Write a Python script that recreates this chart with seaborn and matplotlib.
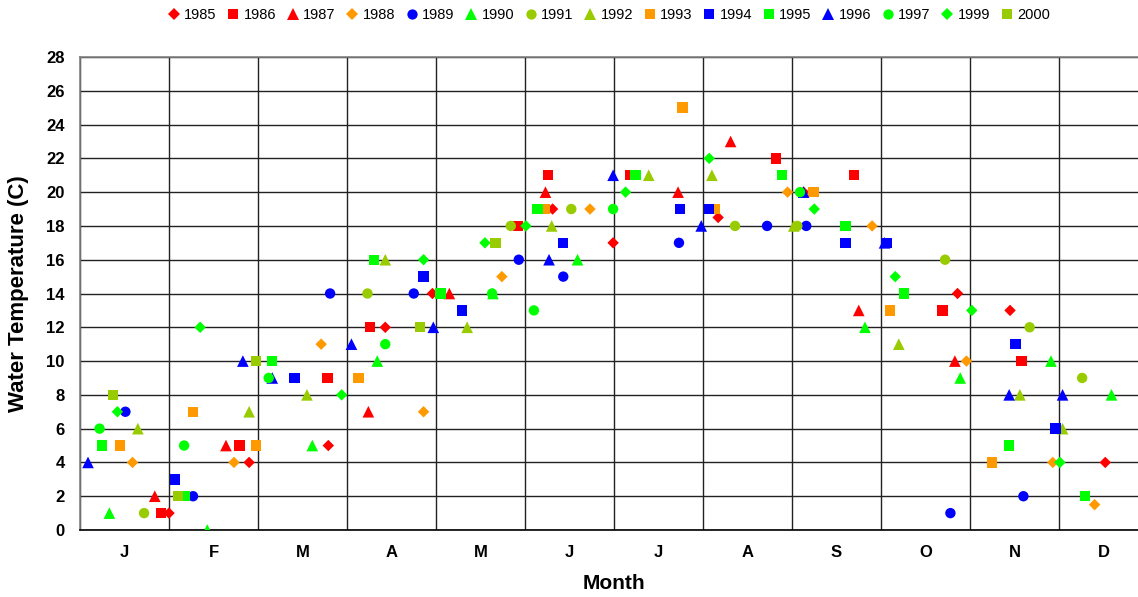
import matplotlib
matplotlib.use("Agg")
import matplotlib.pyplot as plt
import numpy as np
import pandas as pd
import seaborn as sns
from matplotlib.markers import MarkerStyle
from matplotlib.transforms import Affine2D
from matplotlib.lines import Line2D

# ---------------- data (x = position in months from 1 Jan, y = water temperature C) -------------
month_labels = ["J", "F", "M", "A", "M", "J", "J", "A", "S", "O", "N", "D"]
years = ["1985", "1986", "1987", "1988", "1989", "1990", "1991", "1992",
         "1993", "1994", "1995", "1996", "1997", "1999", "2000"]

x_1985 = [1.00, 1.90, 2.79, 3.43, 3.96, 5.31, 5.99, 7.17, 8.13, 9.86, 10.45, 11.52]
y_1985 = [1, 4, 5, 12, 14, 19, 17, 18.5, 20, 14, 13, 4]

x_1986 = [0.91, 1.79, 2.78, 3.26, 4.92, 5.26, 6.18, 7.82, 8.70, 9.69, 10.58]
y_1986 = [1, 5, 9, 12, 18, 21, 21, 22, 21, 13, 10]

x_1987 = [0.84, 1.64, 3.24, 4.15, 5.23, 6.72, 7.31, 8.75, 9.83]
y_1987 = [2, 5, 7, 14, 20, 20, 23, 13, 10]

x_1988 = [0.59, 1.73, 2.71, 3.86, 4.74, 5.73, 7.95, 8.90, 9.96, 10.93, 11.40]
y_1988 = [4, 4, 11, 7, 15, 19, 20, 18, 10, 4, 1.5]

x_1989 = [0.51, 1.27, 2.81, 3.75, 4.93, 5.43, 6.73, 7.72, 8.16, 9.78, 10.60]
y_1989 = [7, 2, 14, 14, 16, 15, 17, 18, 18, 1, 2]

x_1990 = [0.33, 1.43, 2.61, 3.34, 4.64, 5.59, 8.82, 9.89, 10.91, 11.59]
y_1990 = [1, 0, 5, 10, 14, 16, 12, 9, 10, 8]

x_1991 = [0.72, 3.23, 4.84, 5.52, 7.36, 8.06, 9.72, 10.67, 11.26]
y_1991 = [1, 14, 18, 19, 18, 18, 16, 12, 9]

x_1992 = [0.65, 1.90, 2.55, 3.43, 4.35, 5.30, 6.39, 7.10, 8.02, 9.20, 10.56, 11.04]
y_1992 = [6, 7, 8, 16, 12, 18, 21, 21, 18, 11, 8, 6]

x_1993 = [0.45, 1.27, 1.98, 3.13, 5.22, 6.77, 7.13, 8.24, 9.10, 10.25]
y_1993 = [5, 7, 5, 9, 19, 25, 19, 20, 13, 4]

x_1994 = [1.07, 2.41, 3.86, 4.29, 5.43, 6.74, 7.07, 8.60, 9.06, 10.51, 10.96]
y_1994 = [3, 9, 15, 13, 17, 19, 19, 17, 17, 11, 6]

x_1995 = [0.25, 1.18, 2.16, 3.30, 4.05, 5.14, 6.24, 7.89, 8.60, 9.26, 10.44, 11.29]
y_1995 = [5, 2, 10, 16, 14, 19, 21, 21, 18, 14, 5, 2]

x_1996 = [0.09, 1.83, 2.16, 3.05, 3.97, 5.27, 5.99, 6.98, 8.13, 9.04, 10.44, 11.04]
y_1996 = [4, 10, 9, 11, 12, 16, 21, 18, 20, 17, 8, 8]

x_1997 = [0.22, 1.17, 2.12, 3.43, 4.63, 5.10, 5.99, 8.09]
y_1997 = [6, 5, 9, 11, 14, 13, 19, 20]

x_1999 = [0.42, 1.35, 2.94, 3.86, 4.55, 5.01, 6.13, 7.07, 8.25, 9.16, 10.02, 11.01]
y_1999 = [7, 12, 8, 16, 17, 18, 20, 22, 19, 15, 13, 4]

x_2000 = [0.37, 1.10, 1.98, 3.82, 4.67]
y_2000 = [8, 2, 10, 12, 17]

series_x = [x_1985, x_1986, x_1987, x_1988, x_1989, x_1990, x_1991, x_1992,
            x_1993, x_1994, x_1995, x_1996, x_1997, x_1999, x_2000]
series_y = [y_1985, y_1986, y_1987, y_1988, y_1989, y_1990, y_1991, y_1992,
            y_1993, y_1994, y_1995, y_1996, y_1997, y_1999, y_2000]

# ---------------- styles ----------------
RED, ORANGE, BLUE, GREEN, OLIVE = "#FF0000", "#FF9900", "#0000FF", "#00FF00", "#99CC00"
colors = [RED, RED, RED, ORANGE, BLUE, GREEN, OLIVE, OLIVE,
          ORANGE, BLUE, GREEN, BLUE, GREEN, GREEN, OLIVE]
shapes = ["D", "s", "^", "D", "o", "^", "o", "^", "s", "s", "s", "^", "o", "D", "s"]
scale = {"D": 0.78, "s": 1.0, "^": 1.12, "o": 1.0}

palette = dict(zip(years, colors))
markers = {y: MarkerStyle(m, transform=Affine2D().scale(scale[m])) for y, m in zip(years, shapes)}

frames = [pd.DataFrame({"month": xs, "temp": ys, "year": yr})
          for yr, xs, ys in zip(years, series_x, series_y)]
df = pd.concat(frames, ignore_index=True)

# ---------------- figure ----------------
sns.set_theme(style="white")
plt.rcParams["font.family"] = ["Liberation Sans", "DejaVu Sans"]
plt.rcParams["text.color"] = "black"
plt.rcParams["axes.labelcolor"] = "black"
plt.rcParams["xtick.color"] = "black"
plt.rcParams["ytick.color"] = "black"

W, H = 1138, 597
fig = plt.figure(figsize=(W / 100, H / 100), dpi=100)
L, R, T, B = 80, 1148, 57, 530
ax = fig.add_axes([L / W, (H - B) / H, (R - L) / W, (B - T) / H])

sns.scatterplot(data=df, x="month", y="temp", hue="year", style="year",
                palette=palette, markers=markers, s=56, linewidth=0,
                legend=False, ax=ax, zorder=3)

ax.set_xlim(0, 12)
ax.set_ylim(0, 28)
ax.set_yticks(np.arange(0, 29, 2))
ax.set_xticks(np.arange(0, 13, 1))
ax.set_xticklabels([])
ax.set_xticks(np.arange(12) + 0.5, minor=True)
ax.set_xticklabels(month_labels, minor=True)

ax.grid(which="major", axis="both", color="#222222", linewidth=1.0, zorder=0)
ax.set_axisbelow(True)

for side in ["left", "top", "right"]:
    ax.spines[side].set_color("#808080")
    ax.spines[side].set_linewidth(1.2)
ax.spines["bottom"].set_color("#000000")
ax.spines["bottom"].set_linewidth(1.2)

ax.tick_params(axis="y", which="major", direction="out", length=5, width=1,
               color="#808080", labelcolor="black", pad=6, labelsize=12)
ax.tick_params(axis="x", which="major", direction="out", length=4, width=1,
               color="#333333")
ax.tick_params(axis="x", which="minor", length=0, pad=11, labelsize=12,
               labelcolor="black")
for lab in ax.get_yticklabels() + ax.get_xticklabels(minor=True):
    lab.set_fontweight("bold")

ax.set_xlabel("Month", fontsize=15, fontweight="bold", color="black")
ax.set_ylabel("Water Temperature (C)", fontsize=16, fontweight="bold", color="black")
ax.xaxis.set_label_coords(0.5, -0.092)
ax.yaxis.set_label_coords(-0.048, 0.5)

handles = [Line2D([], [], linestyle="none", marker=markers[y], color=palette[y],
                  markersize=7.4, markeredgewidth=0) for y in years]
fig.legend(handles, years, loc="center", bbox_to_anchor=(609 / W, 1 - 15 / H),
           ncol=15, frameon=False, fontsize=10.5, handlelength=0.8,
           handletextpad=0.3, columnspacing=0.75, borderpad=0)

fig.savefig("out.png", dpi=100)
